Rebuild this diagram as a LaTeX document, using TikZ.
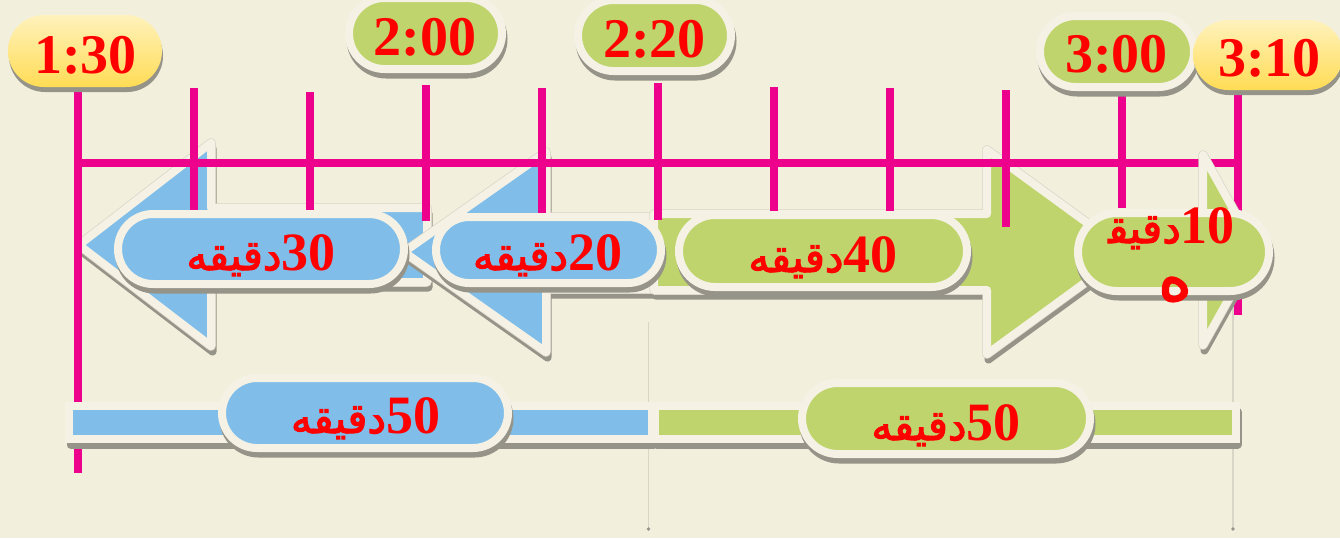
\documentclass[tikz,border=0pt]{standalone}
\usepackage{fontspec}
\setmainfont{Liberation Serif}
\newfontfamily\arabicfont[Script=Arabic,FakeBold=2.5]{DejaVu Sans}
\TeXXeTstate=1
\usetikzlibrary{shapes.misc}
\definecolor{bgcol}{RGB}{242,239,221}
\definecolor{cream}{RGB}{245,242,229}
\definecolor{shgray}{RGB}{150,148,136}
\definecolor{edgegray}{RGB}{218,214,199}
\definecolor{myblue}{RGB}{128,190,233}
\definecolor{mygreen}{RGB}{191,212,108}
\definecolor{mypink}{RGB}{236,0,140}
\definecolor{ytop}{RGB}{255,242,188}
\definecolor{ybot}{RGB}{255,220,85}
\definecolor{txtred}{RGB}{255,0,0}
\newcommand\durlabel[1]{{\arabicfont\fontsize{42}{46}\selectfont\beginR دقيقه\endR}{\fontsize{54}{58}\selectfont\bfseries #1}}
\newcommand\timelabel[1]{{\fontsize{56}{60}\selectfont\bfseries #1}}
\begin{document}
\begin{tikzpicture}[x=1pt,y=-1pt,
  shadowpre/.style={preaction={draw=shgray, fill=shgray, line width=8pt, line join=round, transform canvas={xshift=1.5pt,yshift=-5.5pt}}},
  edgepre/.style={preaction={draw=edgegray, line width=9.5pt, line join=round}},
  pill/.style={rounded rectangle, inner sep=0pt, draw=cream, line width=8pt, shadowpre},
  bluepill/.style={pill, fill=myblue},
  greenpill/.style={pill, fill=mygreen},
  yellowpill/.style={rounded rectangle, inner sep=0pt, top color=ytop, bottom color=ybot,
     preaction={fill=shgray, transform canvas={xshift=1pt,yshift=-5pt}}},
  arrowshape/.style={draw=cream, line width=8pt, line join=round, shadowpre, edgepre},
  bluearrow/.style={arrowshape, fill=myblue},
  greenarrow/.style={arrowshape, fill=mygreen},
  bar/.style={draw=cream, line width=8pt, shadowpre},
  pinkline/.style={draw=mypink, line width=7.5pt},
  dropline/.style={draw=edgegray, line width=1.3pt},
  lbl/.style={text=txtred, anchor=base, inner sep=0pt}
]
\useasboundingbox (0,0) rectangle (1340,538);
\fill[bgcol] (0,0) rectangle (1340,538);

% drop lines
\coordinate (dla) at (648.5,322);
\coordinate (dlb) at (648.5,529);
\coordinate (dlc) at (1233,300);
\coordinate (dld) at (1233,529);
\draw[dropline] (dla) -- (dlb);
\draw[dropline] (dlc) -- (dld);
\fill[shgray] (dlb) circle (1.8pt);
\fill[shgray] (dld) circle (1.8pt);

% big arrows
\draw[bluearrow] (79,245) -- (211,143) -- (211,208) -- (427,208) -- (427,282) -- (211,282) -- (211,346) -- cycle;
\draw[bluearrow] (404,252) -- (546,152) -- (546,217) -- (655,217) -- (655,289) -- (546,289) -- (546,352) -- cycle;
\draw[greenarrow] (654,214) -- (987,214) -- (987,150) -- (1127,252) -- (987,354) -- (987,290) -- (654,290) -- cycle;

% timeline
\coordinate (tl0) at (78,163);
\coordinate (tl10) at (1238,163);
\draw[pinkline] (tl0) -- (tl10);
\foreach \x/\t/\b in {78/88/473, 194/88/210, 310/92/210, 426/85/221, 542/88/213, 658/83/220, 774/87/212, 890/88/212, 1006/90/227, 1122/92/208, 1238/92/315}{
  \coordinate (ta\x) at (\x,\t);
  \coordinate (tb\x) at (\x,\b);
  \draw[pinkline] (ta\x) -- (tb\x);
}

% small arrow
\draw[greenarrow] (1115,214) -- (1203,214) -- (1203,155) -- (1256,250) -- (1203,345) -- (1203,290) -- (1115,290) -- cycle;

% bottom bars
\draw[bar, fill=myblue] (69,406) rectangle (652,439);
\draw[bar, fill=mygreen] (655,406) rectangle (1236,439);

% top time pills
\node[yellowpill, minimum width=154pt, minimum height=72pt] (p130) at (85,51) {};
\node[greenpill, minimum width=153pt, minimum height=71pt] (p200) at (425.5,33.5) {};
\node[greenpill, minimum width=153pt, minimum height=71pt] (p220) at (654.5,35.5) {};
\node[greenpill, minimum width=154pt, minimum height=71pt] (p300) at (1117,51.5) {};
\node[yellowpill, minimum width=150pt, minimum height=70pt] (p310) at (1268,55) {};
\node[lbl] (t130) at (85.5,73) {\timelabel{1:30}};
\node[lbl] (t200) at (425,55) {\timelabel{2:00}};
\node[lbl] (t220) at (654.5,57) {\timelabel{2:20}};
\node[lbl] (t300) at (1116.5,72) {\timelabel{3:00}};
\node[lbl] (t310) at (1269.5,76) {\timelabel{3:10}};

% duration pills
\node[bluepill, minimum width=286pt, minimum height=70pt] (d30) at (261,249) {};
\node[bluepill, minimum width=225pt, minimum height=66pt] (d20) at (548.5,250) {};
\node[greenpill, minimum width=288pt, minimum height=72pt] (d40) at (823,251) {};
\node[greenpill, minimum width=191pt, minimum height=78pt] (d10) at (1173.5,252) {};
\node[bluepill, minimum width=286pt, minimum height=70pt] (d50a) at (365,413) {};
\node[greenpill, minimum width=288pt, minimum height=71pt] (d50b) at (946,418.5) {};

\node[lbl] (l30) at (261,270) {\durlabel{30}};
\node[lbl] (l20) at (547.5,270) {\durlabel{20}};
\node[lbl] (l40) at (823,272) {\durlabel{40}};
\node[lbl] (l50a) at (365.5,433) {\durlabel{50}};
\node[lbl] (l50b) at (946,440) {\durlabel{50}};
\node[lbl] (l10a) at (1171.5,243) {{\arabicfont\fontsize{42}{46}\selectfont\beginR دقيق^^^^200d\endR}{\fontsize{54}{58}\selectfont\bfseries 10}};
\node[lbl] (l10b) at (1175,300) {{\arabicfont\fontsize{64}{68}\selectfont ه}};
\end{tikzpicture}
\end{document}
